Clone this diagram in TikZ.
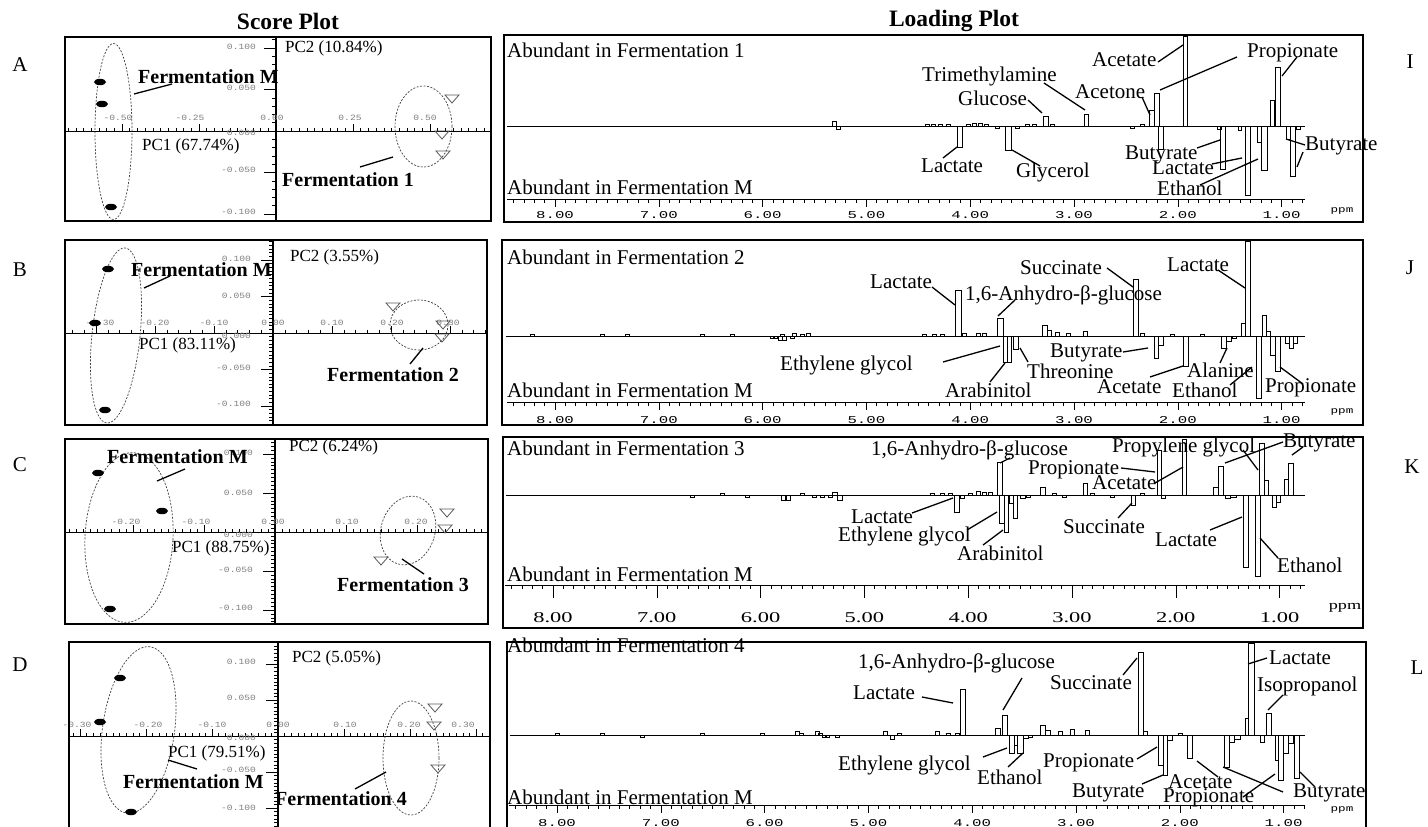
\documentclass[tikz,border=0pt]{standalone}
\usepackage{fontspec}
\usepackage{graphicx}
\setmainfont{Liberation Serif}
\newfontfamily\monof{Liberation Mono}
\newcommand\ppmlab[1]{\scalebox{1.5}[1]{\monof\fontsize{10.5}{10.5}\selectfont #1}}
\newcommand\ppmlabc[1]{\scalebox{1.5}[1]{\fontsize{15}{15}\selectfont #1}}
\newcommand\scorelab[1]{\scalebox{1.2}[1]{\monof\fontsize{8}{8}\selectfont #1}}
\newcommand\ppmword{\scalebox{1.4}[1]{\monof\fontsize{9}{9}\selectfont ppm}}
\newcommand\ppmwordc{\scalebox{1.4}[1]{\fontsize{13}{13}\selectfont ppm}}
\newcommand\pk[3]{\draw[peak] (#1,\bs) rectangle (#2,#3);}
\newcommand\hticks[6]{%
  \foreach \k in {-45,...,45}{%
    \pgfmathsetmacro\tkx{#1+\k*#3}%
    \pgfmathsetmacro\tkok{(\tkx>#5)&&(\tkx<#6)}%
    \ifdim\tkok pt>0.5pt
      \pgfmathsetmacro\tkl{mod(abs(\k),#4)==0 ? 7 : 3}%
      \draw[tk] (\tkx,#2) -- (\tkx,#2-\tkl);%
    \fi}}
\newcommand\vticks[6]{%
  \foreach \k in {-30,...,30}{%
    \pgfmathsetmacro\tky{#2+\k*#3}%
    \pgfmathsetmacro\tkok{(\tky>#5)&&(\tky<#6)}%
    \ifdim\tkok pt>0.5pt
      \pgfmathsetmacro\tkl{mod(abs(\k),#4)==0 ? 12 : 4}%
      \draw[tk] (#1,\tky) -- (#1-\tkl,\tky);%
    \fi}}
% #1 x of 8.00, #2 axis y, #3 major length, #4 label y, #5 label macro, #6 panel tag
\newcommand\ppmaxis[6]{%
  \draw[tk] (#1-48,#2) -- (1305,#2);
  \foreach \k in {-4,...,72}{%
    \pgfmathsetmacro\tkx{#1+\k*10.38}%
    \pgfmathsetmacro\tkl{mod(\k+100,10)==0 ? #3 : 4}%
    \draw[tk] (\tkx,#2) -- (\tkx,#2+\tkl);}
  \foreach \v [count=\i from 0] in {8.00,7.00,6.00,5.00,4.00,3.00,2.00,1.00}{%
    \node[inner sep=0pt] (ppm#6\i) at (#1+\i*103.8,#4) {#5{\v}};}
}
\begin{document}
\begin{tikzpicture}[x=1pt,y=-1pt,
  frame/.style={line width=1.6pt},
  lab/.style={font=\fontsize{21}{21}\selectfont, inner sep=0pt, anchor=west},
  blab/.style={font=\bfseries\fontsize{20}{20}\selectfont, inner sep=0pt, anchor=west},
  pclab/.style={font=\fontsize{17}{17}\selectfont, inner sep=0pt, anchor=west},
  head/.style={font=\bfseries\fontsize{23.5}{23.5}\selectfont, inner sep=0pt},
  plet/.style={font=\fontsize{21}{21}\selectfont, inner sep=0pt},
  lead/.style={line width=1.3pt},
  peak/.style={line width=0.8pt},
  tk/.style={line width=0.6pt},
  grp/.style={dash pattern=on 2pt off 1.5pt, line width=0.7pt, black!75},
  tri/.style={line width=0.8pt, black!65},
  sl/.style={inner sep=0pt, text=black!50},
  ppmtxt/.style={inner sep=0pt}
]
\fill[white] (0,0) rectangle (1428,827);
\useasboundingbox (0,0) rectangle (1428,827);

% headers and panel letters
\node[head] (hs) at (288,21) {Score Plot};
\node[head] (hl) at (954,21) {Loading Plot};
\node[plet] (pA) at (20,65) {A};
\node[plet] (pB) at (20,270) {B};
\node[plet] (pC) at (20,465) {C};
\node[plet] (pD) at (20,665) {D};
\node[plet] (pI) at (1410,62) {I};
\node[plet] (pJ) at (1410,268) {J};
\node[plet] (pK) at (1412,467) {K};
\node[plet] (pL) at (1417,668) {L};

% ================= SCORE PLOTS =================
% ---- A ----
\hticks{276}{131}{7.7}{10}{66}{490}
\vticks{276}{131}{8.3}{5}{38}{220}
\draw[line width=0.8pt] (65,131) -- (491,131);
\draw[line width=1.2pt] (276,37) -- (276,221);
\foreach \t/\x [count=\i] in {-0.50/118,-0.25/190,0.00/272,0.25/350,0.50/425}
  \node[sl] (sah\i) at (\x,118) {\scorelab{\t}};
\foreach \t/\y [count=\i] in {0.100/47,0.050/88,0.000/133,-0.050/170,-0.100/212}
  \node[sl,anchor=east] (sav\i) at (256,\y) {\scorelab{\t}};
\draw[frame] (65,37) rectangle (491,221);
\draw[grp] (113.5,131.5) ellipse [x radius=18.5pt, y radius=88pt];
\draw[grp] (423.5,126.5) ellipse [x radius=28.5pt, y radius=40.5pt];
\foreach \x/\y in {100/82,102/104,111/207} \fill (\x,\y) ellipse [x radius=6pt, y radius=3.2pt];
\foreach \x/\y in {452/99,442/135,443/155} \draw[tri] (\x-7,\y-4) -- (\x+7,\y-4) -- (\x,\y+4) -- cycle;
\node[pclab] (apc2) at (285,48) {PC2 (10.84\%)};
\node[pclab] (apc1) at (142,146) {PC1 (67.74\%)};
\node[blab] (afm) at (138,77) {Fermentation M};
\node[blab] (af1) at (282,180) {Fermentation 1};
\draw[lead] (134,94) -- (172,84);
\draw[lead] (360,167) -- (393,157);

% ---- B ----
\hticks{273}{333}{11.8}{5}{66}{486}
\vticks{273}{333}{3.65}{10}{241}{424}
\draw[line width=0.8pt] (65,333) -- (487,333);
\draw[line width=1.2pt] (273,240) -- (273,425);
\foreach \t/\x [count=\i] in {-0.30/100,-0.20/155,-0.10/214,0.00/273,0.10/332,0.20/392,0.30/448}
  \node[sl] (sbh\i) at (\x,323) {\scorelab{\t}};
\foreach \t/\y [count=\i] in {0.100/259,0.050/296,0.000/336,-0.050/368,-0.100/404}
  \node[sl,anchor=east] (sbv\i) at (251,\y) {\scorelab{\t}};
\draw[frame] (65,240) rectangle (487,425);
\draw[grp,rotate around={-6:(116,335.5)}] (116,335.5) ellipse [x radius=24pt, y radius=88pt];
\draw[grp] (419,325) ellipse [x radius=29pt, y radius=25pt];
\foreach \x/\y in {108/269,95/323,105/410} \fill (\x,\y) ellipse [x radius=6pt, y radius=3.2pt];
\foreach \x/\y in {393/307,443/325,442/338} \draw[tri] (\x-7,\y-4) -- (\x+7,\y-4) -- (\x,\y+4) -- cycle;
\node[pclab] (bpc2) at (290,257) {PC2 (3.55\%)};
\node[pclab] (bpc1) at (139,345) {PC1 (83.11\%)};
\node[blab] (bfm) at (131,270) {Fermentation M};
\node[blab] (bf2) at (327,375) {Fermentation 2};
\draw[lead] (144,288) -- (170,276);
\draw[lead] (410,364) -- (423,348);

% ---- C ----
\hticks{275}{532}{7.1}{10}{66}{487}
\vticks{275}{532}{3.9}{10}{440}{623}
\draw[line width=0.8pt] (65,532) -- (488,532);
\draw[line width=1.2pt] (275,439) -- (275,624);
\foreach \t/\x [count=\i] in {-0.20/126,-0.10/196,0.00/273,0.10/347,0.20/416}
  \node[sl] (sch\i) at (\x,522) {\scorelab{\t}};
\foreach \t/\y [count=\i] in {0.100/453,0.050/493,0.000/535,-0.050/570,-0.100/608}
  \node[sl,anchor=east] (scv\i) at (253,\y) {\scorelab{\t}};
\draw[frame] (65,439) rectangle (488,624);
\draw[grp,rotate around={-3:(129,537.5)}] (129,537.5) ellipse [x radius=44pt, y radius=85pt];
\draw[grp,rotate around={-17:(408,530.5)}] (408,530.5) ellipse [x radius=27pt, y radius=35pt];
\foreach \x/\y in {98/473,162/511,110/609} \fill (\x,\y) ellipse [x radius=6pt, y radius=3.2pt];
\foreach \x/\y in {447/513,445/529,381/561} \draw[tri] (\x-7,\y-4) -- (\x+7,\y-4) -- (\x,\y+4) -- cycle;
\node[pclab] (cpc2) at (289,447) {PC2 (6.24\%)};
\node[pclab] (cpc1) at (172,548) {PC1 (88.75\%)};
\node[blab] (cfm) at (107,457) {Fermentation M};
\node[blab] (cf3) at (337,585) {Fermentation 3};
\draw[lead] (157,481) -- (185,469);
\draw[lead] (402,559) -- (424,574);

% ---- D ----
\hticks{278}{736}{6.6}{10}{70}{489}
\vticks{278}{736}{3.6}{10}{643}{828}
\draw[line width=0.8pt] (69,736) -- (490,736);
\draw[line width=1.2pt] (278,642) -- (278,829);
\foreach \t/\x [count=\i] in {-0.30/77,-0.20/148,-0.10/212,0.00/278,0.10/345,0.20/409,0.30/463}
  \node[sl] (sdh\i) at (\x,725) {\scorelab{\t}};
\foreach \t/\y [count=\i] in {0.100/662,0.050/698,0.000/738,-0.050/770,-0.100/808}
  \node[sl,anchor=east] (sdv\i) at (256,\y) {\scorelab{\t}};
\draw[frame] (69,642) rectangle (490,830);
\draw[grp,rotate around={-8:(138.5,730)}] (138.5,730) ellipse [x radius=36pt, y radius=84pt];
\draw[grp] (411,758) ellipse [x radius=28pt, y radius=57pt];
\foreach \x/\y in {120/678,100/722,131/812} \fill (\x,\y) ellipse [x radius=6pt, y radius=3.2pt];
\foreach \x/\y in {435/708,434/726,438/769} \draw[tri] (\x-7,\y-4) -- (\x+7,\y-4) -- (\x,\y+4) -- cycle;
\node[pclab] (dpc2) at (292,658) {PC2 (5.05\%)};
\node[pclab] (dpc1) at (168,753) {PC1 (79.51\%)};
\node[blab] (dfm) at (123,782) {Fermentation M};
\node[blab] (df4) at (275,799) {Fermentation 4};
\draw[lead] (168,760) -- (197,769);
\draw[lead] (355,789) -- (386,772);

% ================= LOADING PLOTS =================
% ---- I ----
\draw[frame] (504,35) rectangle (1363,222);
\def\bs{126}
\draw[peak] (507,\bs) -- (1305,\bs);
\pk{832}{836}{121}\pk{836}{840}{129}
\pk{925}{929}{124}\pk{931}{935}{124}\pk{938}{942}{124}\pk{946}{950}{124}
\pk{966}{970}{124}\pk{972}{976}{123}\pk{978}{982}{123}\pk{984}{988}{124}
\pk{995}{999}{128}\pk{1015}{1019}{128}\pk{1025}{1029}{124}\pk{1032}{1036}{124}\pk{1050}{1054}{124}
\pk{1130}{1134}{128}\pk{1140}{1144}{124}
\pk{957}{962}{147}
\pk{1005}{1011}{150}
\pk{1043}{1048}{116}
\pk{1084}{1088}{114}
\pk{1149}{1154}{110}
\pk{1154}{1159}{93}
\pk{1158}{1163}{149}
\pk{1183}{1187}{36}
\pk{1217}{1221}{129}
\pk{1220}{1225}{169}
\pk{1238}{1241}{130}
\pk{1245}{1250}{195}
\pk{1257}{1261}{142}
\pk{1261}{1267}{170}
\pk{1270}{1274}{100}
\pk{1275}{1280}{67}
\pk{1286}{1290}{139}
\pk{1290}{1295}{176}
\pk{1296}{1300}{129}
\node[lab] (ia1) at (507,50) {Abundant in Fermentation 1};
\node[lab] (iam) at (507,187) {Abundant in Fermentation M};
\node[lab] (itma) at (922,76) {Trimethylamine};
\node[lab] (iglu) at (958,98) {Glucose};
\node[lab] (iacn) at (1075,92) {Acetone};
\node[lab] (iace) at (1092,60) {Acetate};
\node[lab] (ipro) at (1247,53) {Propionate};
\node[lab] (ilac) at (921,166) {Lactate};
\node[lab] (igly) at (1016,172) {Glycerol};
\node[lab] (ibut) at (1125,155) {Butyrate};
\node[lab] (ilac2) at (1152,168) {Lactate};
\node[lab] (ieth) at (1157,188) {Ethanol};
\node[lab] (ibut2) at (1305,146) {Butyrate};
\draw[lead] (1044,83) -- (1085,110);
\draw[lead] (1028,100) -- (1042,113);
\draw[lead] (1142,97) -- (1150,115);
\draw[lead] (1158,62) -- (1183,45);
\draw[lead] (1160,90) -- (1237,57);
\draw[lead] (1282,76) -- (1297,57);
\draw[lead] (1197,148) -- (1220,140);
\draw[lead] (1212,164) -- (1242,158);
\draw[lead] (1200,185) -- (1258,159);
\draw[lead] (1305,145) -- (1286,139);
\draw[lead] (1303,152) -- (1297,167);
\draw[lead] (943,158) -- (957,147);
\draw[lead] (1040,166) -- (1012,150);
\ppmaxis{555}{199}{8}{215}{\ppmlab}{i}
\node[ppmtxt] (ippm) at (1342,211) {\ppmword};

% ---- J ----
\draw[frame] (502,240) rectangle (1363,425);
\def\bs{336}
\draw[peak] (506,\bs) -- (1305,\bs);
\pk{530}{534}{334}\pk{600}{604}{334}\pk{625}{629}{334}\pk{700}{704}{334}\pk{730}{734}{334}
\pk{770}{774}{338}\pk{780}{784}{334}\pk{790}{794}{338}
\pk{773}{777}{338}\pk{778}{782}{340}\pk{782}{786}{340}\pk{792}{796}{333}\pk{800}{804}{334}\pk{806}{810}{333}
\pk{922}{926}{334}\pk{932}{936}{334}\pk{940}{944}{334}
\pk{962}{966}{333}\pk{976}{980}{333}\pk{982}{986}{333}
\pk{955}{961}{290}
\pk{997}{1003}{318}
\pk{1003}{1007}{362}
\pk{1007}{1011}{362}
\pk{1013}{1018}{349}
\pk{1042}{1047}{325}\pk{1047}{1051}{330}\pk{1055}{1059}{332}\pk{1066}{1070}{333}\pk{1083}{1087}{331}
\pk{1133}{1138}{279}
\pk{1140}{1144}{333}\pk{1170}{1174}{334}
\pk{1154}{1158}{358}
\pk{1158}{1163}{345}
\pk{1183}{1188}{366}
\pk{1200}{1204}{334}
\pk{1221}{1226}{348}\pk{1226}{1231}{341}\pk{1232}{1236}{338}
\pk{1241}{1245}{323}
\pk{1245}{1250}{241}
\pk{1256}{1261}{398}
\pk{1262}{1266}{315}
\pk{1266}{1270}{331}
\pk{1270}{1275}{355}
\pk{1275}{1280}{371}
\pk{1285}{1289}{343}\pk{1289}{1293}{348}\pk{1293}{1297}{343}
\node[lab] (ja2) at (507,257) {Abundant in Fermentation 2};
\node[lab] (jam) at (507,390) {Abundant in Fermentation M};
\node[lab] (jlac) at (870,282) {Lactate};
\node[lab] (janh) at (965,295) {1,6-Anhydro-β-glucose};
\node[lab] (jeg) at (780,365) {Ethylene glycol};
\node[lab] (jara) at (945,390) {Arabinitol};
\node[lab] (jthr) at (1027,371) {Threonine};
\node[lab] (jsuc) at (1020,268) {Succinate};
\node[lab] (jbut) at (1050,353) {Butyrate};
\node[lab] (jace) at (1097,387) {Acetate};
\node[lab] (jala) at (1187,370) {Alanine};
\node[lab] (jlac2) at (1167,265) {Lactate};
\node[lab] (jeth) at (1172,390) {Ethanol};
\node[lab] (jpro) at (1265,388) {Propionate};
\draw[lead] (932,287) -- (955,305);
\draw[lead] (1015,300) -- (998,316);
\draw[lead] (943,362) -- (1000,346);
\draw[lead] (1005,363) -- (990,382);
\draw[lead] (1028,362) -- (1020,348);
\draw[lead] (1107,268) -- (1133,287);
\draw[lead] (1123,352) -- (1148,348);
\draw[lead] (1150,377) -- (1183,366);
\draw[lead] (1220,363) -- (1227,348);
\draw[lead] (1218,270) -- (1245,288);
\draw[lead] (1230,385) -- (1252,367);
\draw[lead] (1280,367) -- (1303,384);
\ppmaxis{555}{402}{8}{420}{\ppmlab}{j}
\node[ppmtxt] (jppm) at (1342,412) {\ppmword};

% ---- K ----
\draw[frame] (503,437) rectangle (1363,628);
\def\bs{495}
\draw[peak] (506,\bs) -- (1305,\bs);
\pk{690}{694}{497}\pk{720}{724}{493}\pk{745}{749}{497}
\pk{781}{785}{500}\pk{786}{790}{500}\pk{800}{804}{493}\pk{812}{816}{497}\pk{820}{824}{497}
\pk{828}{832}{497}\pk{832}{837}{492}\pk{837}{842}{500}
\pk{930}{934}{493}\pk{940}{944}{493}\pk{948}{952}{493}
\pk{954}{959}{512}
\pk{960}{964}{498}\pk{968}{972}{493}\pk{976}{980}{491}\pk{982}{986}{492}\pk{988}{992}{492}
\pk{997}{1002}{462}
\pk{999}{1004}{523}\pk{1004}{1008}{532}\pk{1009}{1013}{503}\pk{1013}{1017}{518}
\pk{1020}{1025}{498}\pk{1026}{1030}{497}
\pk{1040}{1045}{487}\pk{1052}{1056}{493}\pk{1062}{1066}{497}\pk{1083}{1087}{483}\pk{1090}{1094}{493}
\pk{1110}{1114}{497}\pk{1131}{1135}{505}\pk{1140}{1144}{493}
\pk{1157}{1161}{450}\pk{1161}{1165}{498}
\pk{1182}{1186}{439}
\pk{1213}{1218}{487}\pk{1218}{1223}{466}
\pk{1225}{1230}{498}\pk{1230}{1236}{497}
\pk{1243}{1248}{567}
\pk{1255}{1260}{576}
\pk{1259}{1264}{443}\pk{1264}{1268}{480}
\pk{1272}{1276}{507}\pk{1276}{1280}{502}
\pk{1284}{1288}{479}\pk{1288}{1293}{463}
\node[lab] (ka3) at (507,448) {Abundant in Fermentation 3};
\node[lab] (kam) at (507,574) {Abundant in Fermentation M};
\node[lab] (kanh) at (871,450) {1,6-Anhydro-β-glucose};
\node[lab] (klac) at (851,517) {Lactate};
\node[lab] (keg) at (838,536) {Ethylene glycol};
\node[lab] (kara) at (957,553) {Arabinitol};
\node[lab] (ksuc) at (1063,527) {Succinate};
\node[lab] (kpro) at (1028,470) {Propionate};
\node[lab] (kace) at (1092,483) {Acetate};
\node[lab] (kpg) at (1112,447) {Propylene glycol};
\node[lab] (klac2) at (1155,540) {Lactate};
\node[lab] (keth) at (1277,565) {Ethanol};
\node[lab] (kbut) at (1283,443) {Butyrate};
\draw[lead] (912,513) -- (953,498);
\draw[lead] (967,530) -- (997,512);
\draw[lead] (983,545) -- (1003,530);
\draw[lead] (1010,458) -- (1000,463);
\draw[lead] (1118,518) -- (1132,503);
\draw[lead] (1121,468) -- (1155,472);
\draw[lead] (1155,483) -- (1183,467);
\draw[lead] (1210,530) -- (1242,517);
\draw[lead] (1278,558) -- (1260,538);
\draw[lead] (1283,442) -- (1225,463);
\draw[lead] (1303,447) -- (1292,455);
\draw[lead] (1243,450) -- (1258,470);
\ppmaxis{553}{585}{13}{618}{\ppmlabc}{k}
\node[ppmtxt] (kppm) at (1345,608) {\ppmwordc};

% ---- L ----
\draw[frame] (507,642) rectangle (1366,830);
\def\bs{735}
\draw[peak] (510,\bs) -- (1305,\bs);
\pk{555}{559}{733}\pk{600}{604}{733}\pk{640}{644}{737}\pk{700}{704}{733}\pk{760}{764}{733}
\pk{795}{799}{731}\pk{799}{803}{733}\pk{815}{819}{731}\pk{825}{829}{737}\pk{835}{839}{737}
\pk{822}{826}{737}\pk{818}{822}{733}
\pk{883}{887}{731}\pk{890}{894}{739}\pk{897}{901}{733}
\pk{935}{939}{731}\pk{946}{950}{733}\pk{955}{959}{733}
\pk{960}{965}{689}
\pk{995}{1000}{728}
\pk{1002}{1007}{715}
\pk{1009}{1014}{753}\pk{1014}{1017}{745}\pk{1017}{1023}{753}
\pk{1023}{1028}{738}\pk{1028}{1032}{737}
\pk{1040}{1045}{725}\pk{1045}{1050}{730}\pk{1058}{1062}{731}\pk{1070}{1074}{729}\pk{1085}{1089}{730}
\pk{1138}{1143}{652}\pk{1143}{1147}{731}
\pk{1158}{1163}{765}\pk{1163}{1167}{775}\pk{1167}{1172}{740}\pk{1178}{1182}{733}
\pk{1187}{1192}{758}
\pk{1224}{1229}{767}\pk{1229}{1234}{742}\pk{1234}{1240}{739}
\pk{1245}{1248}{718}\pk{1248}{1254}{643}
\pk{1260}{1264}{742}
\pk{1266}{1271}{713}
\pk{1275}{1278}{760}\pk{1278}{1283}{780}\pk{1283}{1288}{753}\pk{1288}{1293}{743}
\pk{1294}{1299}{778}
\node[lab] (la4) at (507,645) {Abundant in Fermentation 4};
\node[lab] (lam) at (507,797) {Abundant in Fermentation M};
\node[lab] (lanh) at (858,663) {1,6-Anhydro-β-glucose};
\node[lab] (llac) at (853,693) {Lactate};
\node[lab] (leg) at (838,765) {Ethylene glycol};
\node[lab] (leth) at (977,777) {Ethanol};
\node[lab] (lsuc) at (1050,683) {Succinate};
\node[lab] (lpro) at (1043,763) {Propionate};
\node[lab] (lbut) at (1072,793) {Butyrate};
\node[lab] (lace) at (1168,782) {Acetate};
\node[lab] (lpro2) at (1163,798) {Propionate};
\node[lab] (llac2) at (1269,658) {Lactate};
\node[lab] (liso) at (1257,686) {Isopropanol};
\node[lab] (lbut2) at (1293,793) {Butyrate};
\draw[lead] (922,697) -- (953,703);
\draw[lead] (1022,678) -- (1003,710);
\draw[lead] (983,757) -- (1007,748);
\draw[lead] (1008,767) -- (1023,753);
\draw[lead] (1123,675) -- (1137,658);
\draw[lead] (1137,759) -- (1157,747);
\draw[lead] (1142,784) -- (1163,775);
\draw[lead] (1197,761) -- (1218,777);
\draw[lead] (1223,767) -- (1283,792);
\draw[lead] (1243,797) -- (1275,774);
\draw[lead] (1267,658) -- (1248,664);
\draw[lead] (1283,695) -- (1268,710);
\draw[lead] (1300,772) -- (1315,787);
\ppmaxis{557}{805}{8}{823}{\ppmlab}{l}
\node[ppmtxt] (lppm) at (1342,810) {\ppmword};
\end{tikzpicture}
\end{document}
